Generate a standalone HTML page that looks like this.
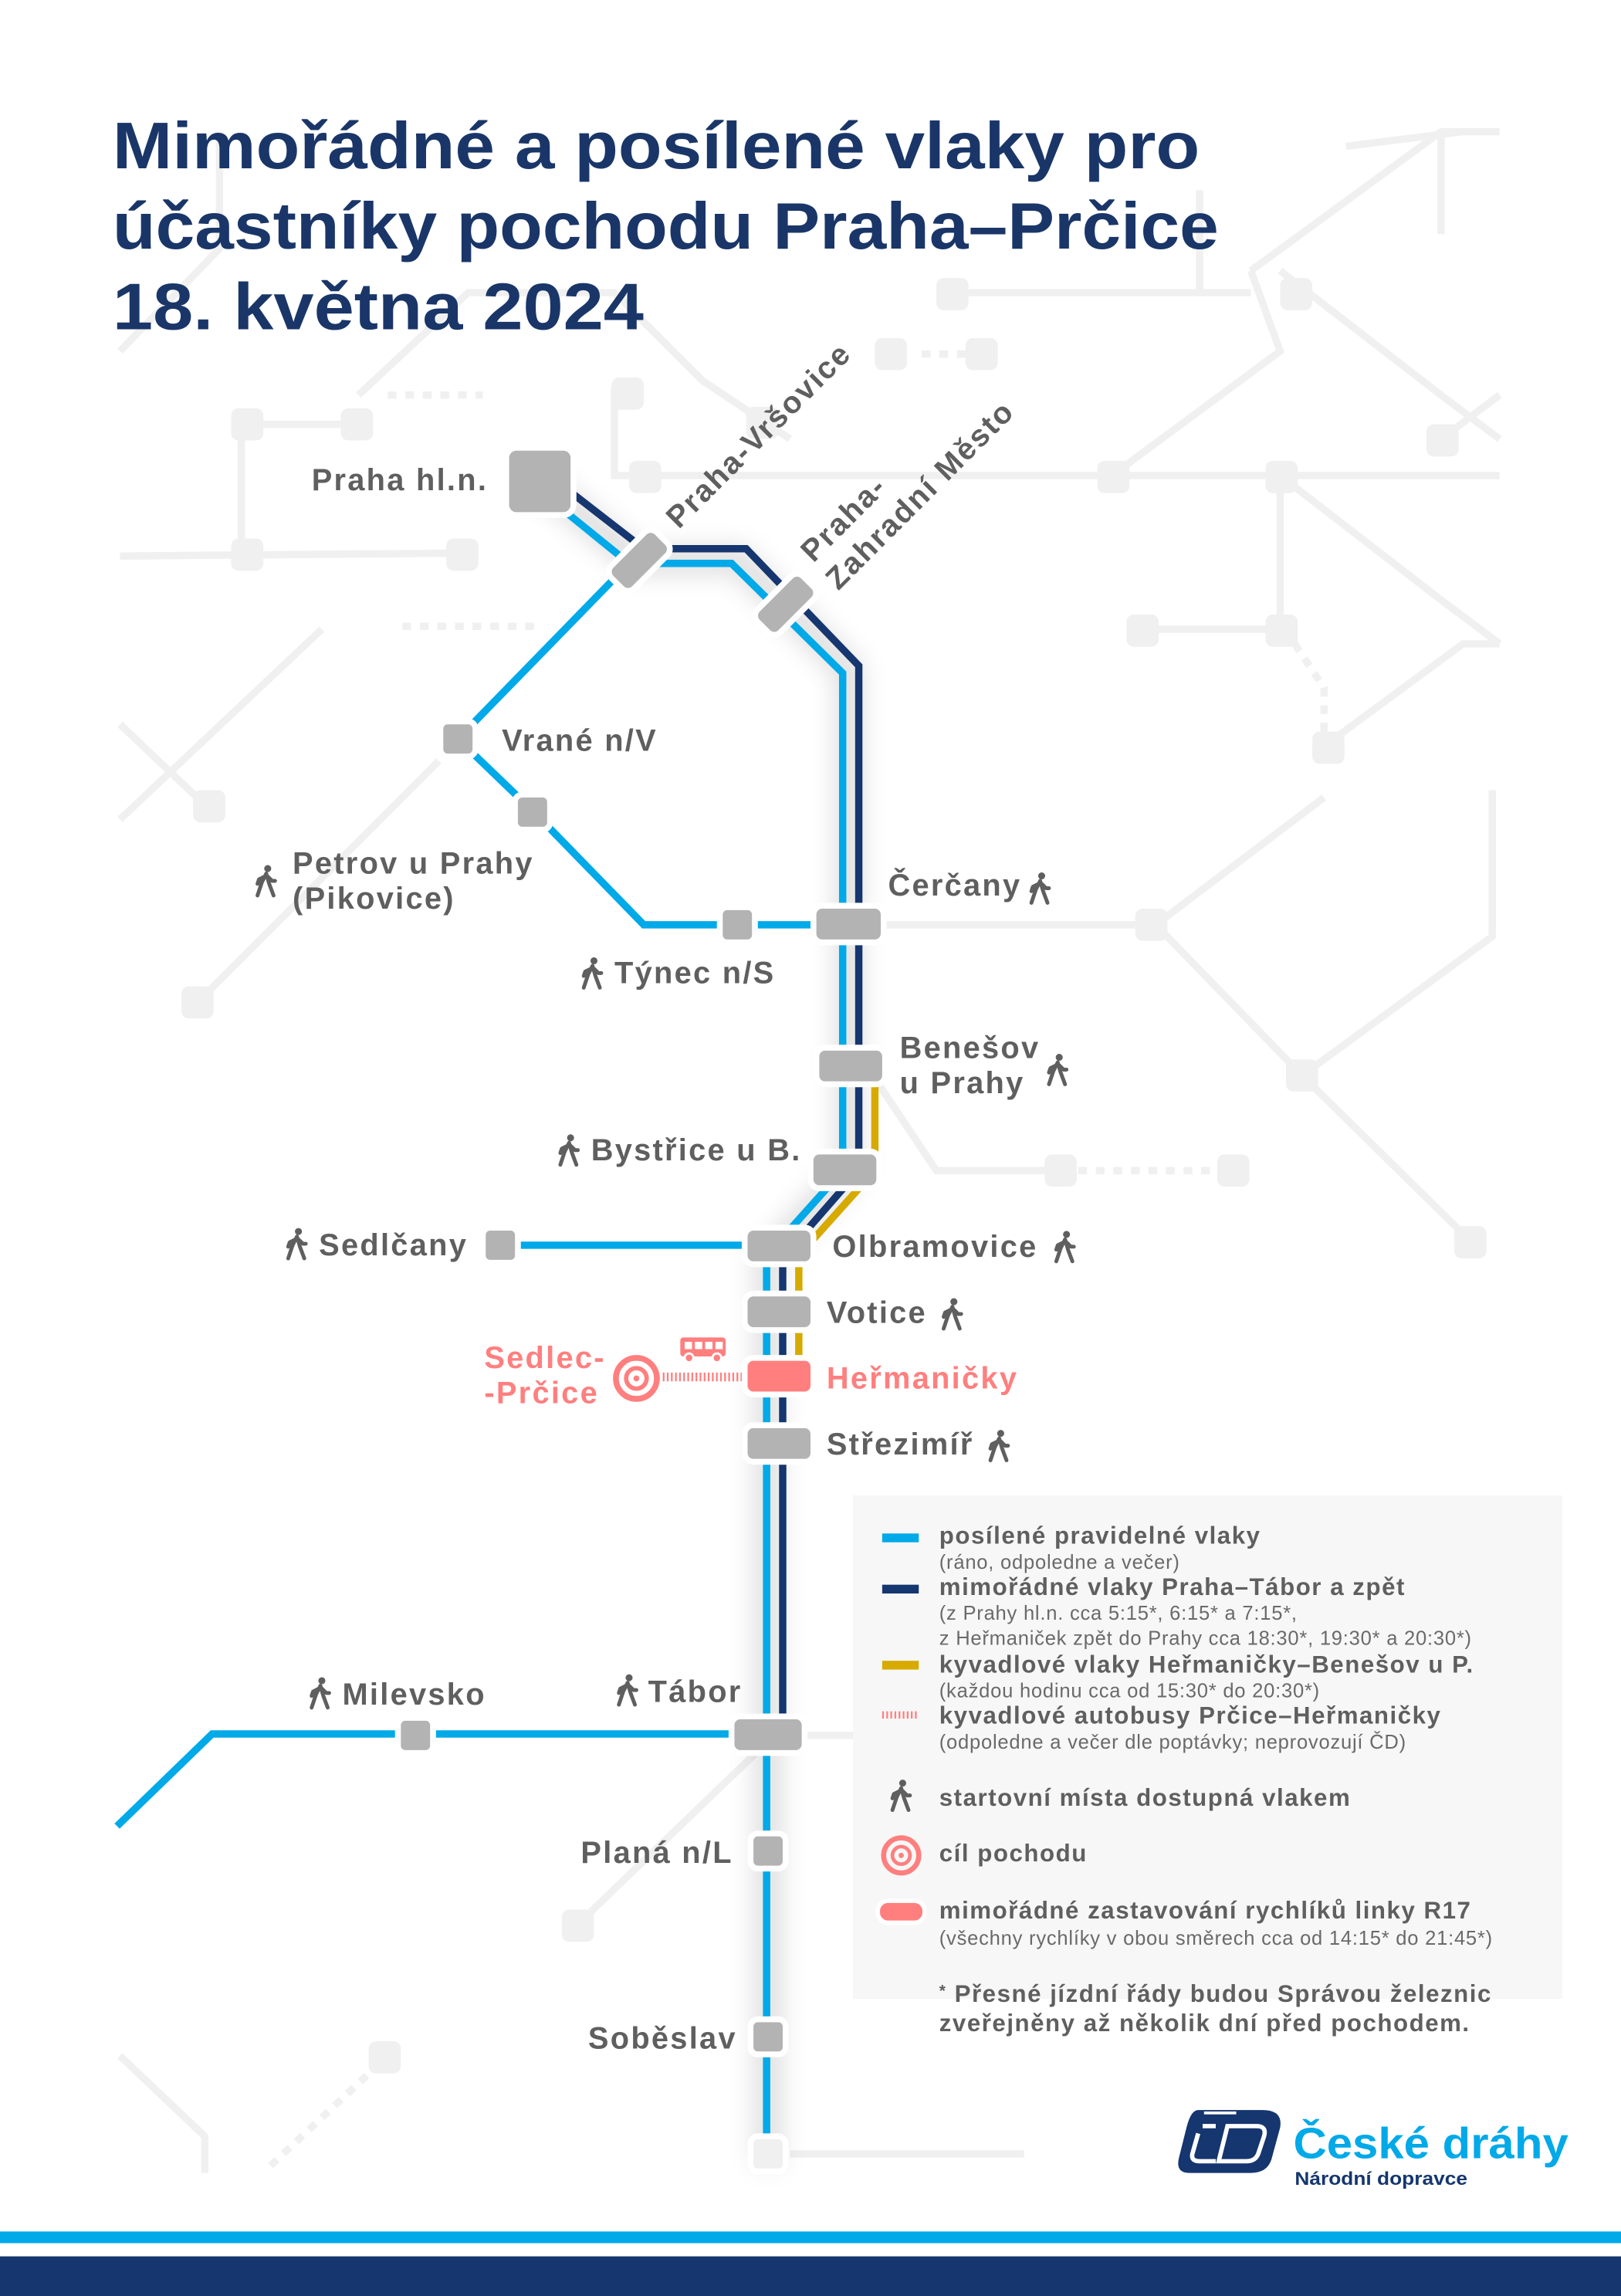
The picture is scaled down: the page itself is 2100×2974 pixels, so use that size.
<!DOCTYPE html>
<html><head><meta charset="utf-8"><style>
html,body{margin:0;padding:0;background:#fff}
svg{display:block}
text{font-family:"Liberation Sans","DejaVu Sans",sans-serif}
.t{font-weight:bold;fill:#1a3668;font-size:45px}
.l{font-weight:bold;fill:#5f5f5f;font-size:21px;letter-spacing:1.2px}
.r{font-weight:bold;fill:#ff7f7f;font-size:21px;letter-spacing:1.2px}
.lb{font-weight:bold;fill:#5f5f5f;font-size:16.5px;letter-spacing:0.8px}
.ls{fill:#6a6a6a;font-size:13.5px;letter-spacing:0.4px}
.bg{stroke:#f0f0f0;stroke-width:5;fill:none}
.bn{fill:#f0f0f0}
.st{fill:#b3b3b3;stroke:#fff;stroke-width:4}
</style></head><body>
<svg width="2100" height="2974" viewBox="0 0 1108 1569.1" preserveAspectRatio="none" xmlns="http://www.w3.org/2000/svg">
<defs>
<symbol id="w" viewBox="0 0 16 22">
<circle cx="9" cy="2.6" r="2.4" fill="#5f5f5f"/>
<path d="M8 6 L5 12 L2 21 M8 6 L10 13 L13 21 M7 8 L3 10 L2 13 M9 8 L12 11 L14 11" stroke="#5f5f5f" stroke-width="2.6" fill="none" stroke-linecap="round" stroke-linejoin="round"/>
</symbol>
<filter id="sh" x="-20%" y="-20%" width="140%" height="140%"><feGaussianBlur stdDeviation="8"/></filter>
</defs>
<rect width="1108" height="1569.1" fill="#fff"/>
<g class="bg">
<path d="M82 240 L150 170 L150 90"/>
<path d="M82 380 L315 378"/>
<path d="M165 290 L245 290"/>
<path d="M165 290 L165 378"/>
<path d="M82 495 L140 550"/>
<path d="M135 685 L300 520"/>
<path d="M82 560 L220 430"/>
<path d="M245 270 L320 200 L420 200 L480 260"/>
<path d="M420 265 L420 325 L1025 325"/>
<path d="M480 260 L540 300"/>
<path d="M855 185 L985 90 L1025 90"/>
<path d="M650 200 L855 200"/>
<path d="M820 200 L820 130"/>
<path d="M760 325 L875 240 L855 185"/>
<path d="M985 90 L985 160"/>
<path d="M875 185 L985 270 L1025 300"/>
<path d="M985 300 L1025 270"/>
<path d="M875 325 L875 430"/>
<path d="M780 430 L875 430"/>
<path d="M875 325 L985 410 L1025 440"/>
<path d="M905 510 L1000 440 L1025 440"/>
<path d="M790 632 L905 545"/>
<path d="M600 632 L790 632"/>
<path d="M790 632 L890 735"/>
<path d="M890 735 L1020 640 L1020 540"/>
<path d="M890 735 L1005 848"/>
<path d="M600 740 L640 800 L725 800"/>
<path d="M395 1315 L525 1190"/>
<path d="M548 1186 L600 1186"/>
<path d="M82 1405 L140 1460 L140 1485"/>
<path d="M540 1472 L700 1472"/>
<path d="M920 100 L1000 90"/>
</g>
<g stroke="#f0f0f0" stroke-width="5" stroke-dasharray="6 6" fill="none">
<path d="M265 270 L330 270"/><path d="M275 428 L370 428"/><path d="M725 800 L843 800"/>
<path d="M630 242 L670 242"/><path d="M885 440 L905 470 L905 510"/><path d="M185 1480 L265 1405"/>
</g>
<g class="bn">
<rect x="158" y="279" width="22" height="22" rx="5"/><rect x="233" y="279" width="22" height="22" rx="5"/>
<rect x="158" y="368" width="22" height="22" rx="5"/><rect x="305" y="368" width="22" height="22" rx="5"/>
<rect x="132" y="540" width="22" height="22" rx="5"/><rect x="124" y="674" width="22" height="22" rx="5"/>
<rect x="418" y="258" width="22" height="22" rx="5"/><rect x="430" y="315" width="22" height="22" rx="5"/>
<rect x="510" y="278" width="22" height="22" rx="5"/><rect x="598" y="231" width="22" height="22" rx="5"/>
<rect x="660" y="231" width="22" height="22" rx="5"/><rect x="640" y="190" width="22" height="22" rx="5"/>
<rect x="750" y="315" width="22" height="22" rx="5"/><rect x="865" y="315" width="22" height="22" rx="5"/>
<rect x="875" y="190" width="22" height="22" rx="5"/><rect x="975" y="290" width="22" height="22" rx="5"/>
<rect x="770" y="420" width="22" height="22" rx="5"/><rect x="865" y="420" width="22" height="22" rx="5"/>
<rect x="897" y="500" width="22" height="22" rx="5"/><rect x="776" y="621" width="22" height="22" rx="5"/>
<rect x="879" y="724" width="22" height="22" rx="5"/><rect x="714" y="789" width="22" height="22" rx="5"/>
<rect x="832" y="789" width="22" height="22" rx="5"/><rect x="994" y="838" width="22" height="22" rx="5"/>
<rect x="384" y="1305" width="22" height="22" rx="5"/><rect x="252" y="1395" width="22" height="22" rx="5"/>
<rect x="514" y="1462" width="22" height="22" rx="5"/>
</g>
<path d="M370 330 L435 383 L505 383 L580 458 L580 800 L525 860 L525 1480" stroke="#000" stroke-opacity="0.12" stroke-width="20" fill="none" filter="url(#sh)"/>
<g fill="none" stroke-linejoin="miter">
<path d="M382 330 L440 375 L510 375 L587 455 L587 800 L545 848" stroke="#15366f" stroke-width="5"/>
<path d="M535 848 L535 1185" stroke="#15366f" stroke-width="5"/>
<path d="M598 740 L598 800 L546 858 L546 940" stroke="#d7aa00" stroke-width="5"/>
<path d="M372 338 L430 385 L500 385 L576 460 L576 800 L524 858 L524 1480" stroke="#00a9e8" stroke-width="5"/>
<path d="M430 385 L313 505 L365 555 L440 632 L580 632" stroke="#00a9e8" stroke-width="5"/>
<path d="M342 851 L520 851" stroke="#00a9e8" stroke-width="5"/>
<path d="M80 1248 L145 1185 L520 1185" stroke="#00a9e8" stroke-width="5"/>
<path d="M453 941 L508 941" stroke="#ff7f7f" stroke-width="6" stroke-dasharray="1.2 1.6"/>
</g>
<rect class="st" x="346" y="306" width="46" height="46" rx="7"/>
<rect class="st" x="415" y="372" width="44" height="22" rx="6" transform="rotate(-45 437 383)"/>
<rect class="st" x="515" y="402" width="44" height="22" rx="6" transform="rotate(-45 537 413)"/>
<rect class="st" x="301" y="493" width="24" height="24" rx="5"/>
<rect class="st" x="352" y="543" width="24" height="24" rx="5"/>
<rect class="st" x="492" y="620" width="24" height="24" rx="5"/>
<rect class="st" x="556" y="619" width="48" height="25" rx="6"/>
<rect class="st" x="558" y="716" width="47" height="25" rx="6"/>
<rect class="st" x="554" y="787" width="47" height="25" rx="6"/>
<rect class="st" x="509" y="839" width="47" height="25" rx="6"/>
<rect class="st" x="330" y="839" width="24" height="24" rx="5"/>
<rect class="st" x="509" y="884" width="47" height="25" rx="6"/>
<rect x="509" y="928" width="47" height="25" rx="6" fill="#ff7f7f" stroke="#fff" stroke-width="4"/>
<rect class="st" x="509" y="974" width="47" height="25" rx="6"/>
<rect class="st" x="500" y="1173" width="50" height="25" rx="6"/>
<rect class="st" x="272" y="1174" width="24" height="24" rx="5"/>
<rect class="st" x="513" y="1253" width="24" height="24" rx="5"/>
<rect class="st" x="513" y="1380" width="24" height="24" rx="5"/>
<rect x="513" y="1460" width="24" height="24" rx="5" fill="#f0f0f0" stroke="#fff" stroke-width="4"/>
<circle cx="435" cy="942" r="14" fill="none" stroke="#ff7f7f" stroke-width="4"/>
<circle cx="435" cy="942" r="7" fill="none" stroke="#ff7f7f" stroke-width="3"/>
<circle cx="435" cy="942" r="2" fill="#ff7f7f"/>
<rect x="465" y="914" width="31" height="13" rx="2" fill="#ff7f7f"/>
<rect x="468" y="917" width="5" height="5" fill="#fff"/><rect x="475" y="917" width="5" height="5" fill="#fff"/><rect x="482" y="917" width="5" height="5" fill="#fff"/><rect x="489" y="917" width="5" height="5" fill="#fff"/>
<circle cx="471" cy="928" r="3" fill="#ff7f7f" stroke="#fff" stroke-width="1.5"/><circle cx="490" cy="928" r="3" fill="#ff7f7f" stroke="#fff" stroke-width="1.5"/>
<text class="t" x="77" y="115" textLength="743" lengthAdjust="spacingAndGlyphs">Mimořádné a posílené vlaky pro</text>
<text class="t" x="77" y="170" textLength="756" lengthAdjust="spacingAndGlyphs">účastníky pochodu Praha–Prčice</text>
<text class="t" x="77" y="225" textLength="363" lengthAdjust="spacingAndGlyphs">18. května 2024</text>
<text class="l" x="213" y="335">Praha hl.n.</text>
<text class="l" transform="translate(464 362) rotate(-45)">Praha-Vršovice</text>
<text class="l" transform="translate(556 385) rotate(-45)">Praha-</text>
<text class="l" transform="translate(573 404) rotate(-45)">Zahradní Město</text>
<text class="l" x="343" y="513">Vrané n/V</text>
<text class="l" x="200" y="597">Petrov u Prahy</text>
<text class="l" x="200" y="621">(Pikovice)</text>
<use href="#w" x="174" y="590" width="16" height="24"/>
<text class="l" x="607" y="612">Čerčany</text>
<use href="#w" x="703" y="595" width="16" height="24"/>
<text class="l" x="420" y="672">Týnec n/S</text>
<use href="#w" x="397" y="653" width="16" height="24"/>
<text class="l" x="615" y="723">Benešov</text>
<text class="l" x="615" y="747">u Prahy</text>
<use href="#w" x="715" y="719" width="16" height="24"/>
<text class="l" x="404" y="793">Bystřice u B.</text>
<use href="#w" x="381" y="774" width="16" height="24"/>
<text class="l" x="218" y="858">Sedlčany</text>
<use href="#w" x="195" y="838" width="16" height="24"/>
<text class="l" x="569" y="859">Olbramovice</text>
<use href="#w" x="720" y="840" width="16" height="24"/>
<text class="l" x="565" y="904">Votice</text>
<use href="#w" x="643" y="886" width="16" height="24"/>
<text class="r" x="565" y="949">Heřmaničky</text>
<text class="r" x="331" y="935">Sedlec-</text>
<text class="r" x="331" y="959">-Prčice</text>
<text class="l" x="565" y="994">Střezimíř</text>
<use href="#w" x="675" y="976" width="16" height="24"/>
<text class="l" x="234" y="1165">Milevsko</text>
<use href="#w" x="211" y="1145" width="16" height="24"/>
<text class="l" x="443" y="1163">Tábor</text>
<use href="#w" x="421" y="1143" width="16" height="24"/>
<text class="l" x="397" y="1273">Planá n/L</text>
<text class="l" x="402" y="1400">Soběslav</text>
<rect x="583" y="1022" width="485" height="344" fill="#f7f7f7"/>
<rect x="603" y="1048" width="25" height="6" fill="#00a9e8"/>
<rect x="603" y="1083" width="25" height="6" fill="#15366f"/>
<rect x="603" y="1135" width="25" height="6" fill="#d7aa00"/>
<path d="M603 1172 L628 1172" stroke="#ff7f7f" stroke-width="5" stroke-dasharray="1.2 1.6"/>
<text class="lb" x="642" y="1055">posílené pravidelné vlaky</text>
<text class="ls" x="642" y="1072">(ráno, odpoledne a večer)</text>
<text class="lb" x="642" y="1090">mimořádné vlaky Praha–Tábor a zpět</text>
<text class="ls" x="642" y="1107">(z Prahy hl.n. cca 5:15*, 6:15* a 7:15*,</text>
<text class="ls" x="642" y="1124">z Heřmaniček zpět do Prahy cca 18:30*, 19:30* a 20:30*)</text>
<text class="lb" x="642" y="1143">kyvadlové vlaky Heřmaničky–Benešov u P.</text>
<text class="ls" x="642" y="1160">(každou hodinu cca od 15:30* do 20:30*)</text>
<text class="lb" x="642" y="1178">kyvadlové autobusy Prčice–Heřmaničky</text>
<text class="ls" x="642" y="1195">(odpoledne a večer dle poptávky; neprovozují ČD)</text>
<use href="#w" x="608" y="1215" width="16" height="24"/>
<text class="lb" x="642" y="1234">startovní místa dostupná vlakem</text>
<circle cx="616" cy="1268" r="12" fill="none" stroke="#ff7f7f" stroke-width="3.5"/>
<circle cx="616" cy="1268" r="6" fill="none" stroke="#ff7f7f" stroke-width="2.5"/>
<circle cx="616" cy="1268" r="1.8" fill="#ff7f7f"/>
<text class="lb" x="642" y="1272">cíl pochodu</text>
<rect x="600" y="1299" width="32" height="15" rx="7" fill="#ff7f7f" stroke="#fff" stroke-width="3"/>
<text class="lb" x="642" y="1311">mimořádné zastavování rychlíků linky R17</text>
<text class="ls" x="642" y="1329">(všechny rychlíky v obou směrech cca od 14:15* do 21:45*)</text>
<text class="lb" x="642" y="1368"><tspan font-size="11" dy="-4">*</tspan><tspan dy="4"> Přesné jízdní řády budou Správou železnic</tspan></text>
<text class="lb" x="642" y="1388">zveřejněny až několik dní před pochodem.</text>
<g transform="translate(805 1438)">
<path d="M14 4 L58 4 Q72 4 70 16 L64 38 Q61 47 50 47 L8 47 Q-2 47 1 36 L6 16 Q9 4 14 4 Z" fill="#15366f"/>
<path d="M17 15 L26 15 M14 20 L10 34 Q9 39 15 39 L26 39" stroke="#fff" stroke-width="3" fill="none"/>
<path d="M34 15 L54 15 Q61 15 59 22 L55 34 Q53 39 47 39 L28 39 L34 15 Z" stroke="#fff" stroke-width="3" fill="none"/>
<path d="M18 6 L40 6" stroke="#fff" stroke-width="2" fill="none"/>
</g>
<text x="884" y="1475" font-size="30" font-weight="bold" fill="#00a9e8" textLength="188" lengthAdjust="spacingAndGlyphs">České dráhy</text>
<text x="885" y="1493" font-size="12.5" font-weight="bold" fill="#15366f" textLength="118" lengthAdjust="spacingAndGlyphs">Národní dopravce</text>
<rect x="0" y="1525" width="1108" height="8" fill="#00a9e8"/>
<rect x="0" y="1542" width="1108" height="28" fill="#15366f"/>
</svg>
</body></html>
